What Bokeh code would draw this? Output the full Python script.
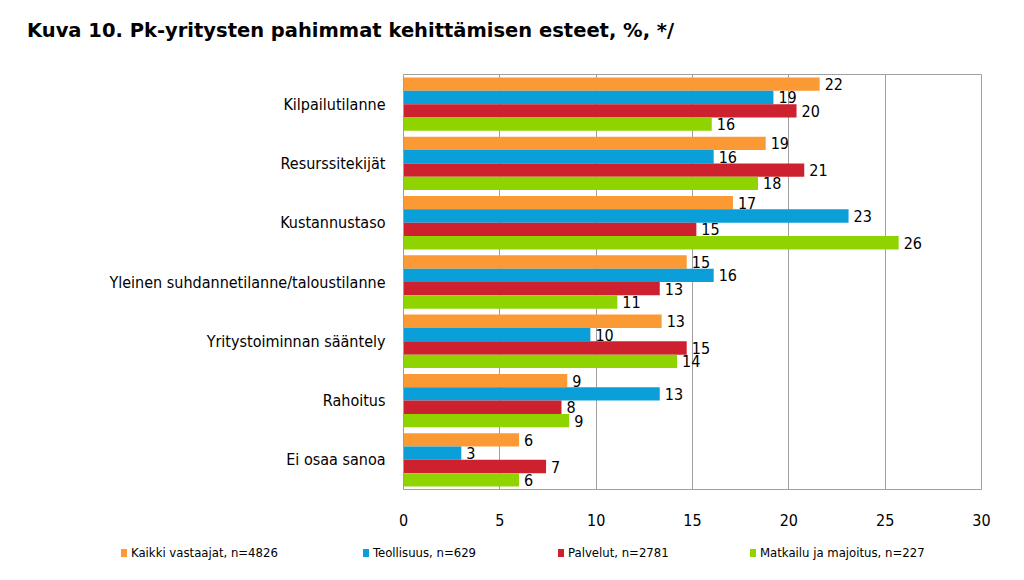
from bokeh.plotting import figure
from bokeh.layouts import column
from bokeh.models import FactorRange, ColumnDataSource, Range1d, FixedTicker, Div
from bokeh.transform import dodge
from bokeh.core.properties import value
from bokeh.embed import file_html
from bokeh.resources import INLINE

title_text = "Kuva 10. Pk-yritysten pahimmat kehittämisen esteet, %, */"
categories = ["Kilpailutilanne", "Resurssitekijät", "Kustannustaso",
              "Yleinen suhdannetilanne/taloustilanne", "Yritystoiminnan sääntely",
              "Rahoitus", "Ei osaa sanoa"]
series_names = ["Kaikki vastaajat, n=4826", "Teollisuus, n=629",
                "Palvelut, n=2781", "Matkailu ja majoitus, n=227"]
kaikki = [21.6, 18.8, 17.1, 14.7, 13.4, 8.5, 6.0]
teollisuus = [19.2, 16.1, 23.1, 16.1, 9.7, 13.3, 3.0]
palvelut = [20.4, 20.8, 15.2, 13.3, 14.7, 8.2, 7.4]
matkailu = [16.0, 18.4, 25.7, 11.1, 14.2, 8.6, 6.0]
kaikki_lbl = ["22", "19", "17", "15", "13", "9", "6"]
teollisuus_lbl = ["19", "16", "23", "16", "10", "13", "3"]
palvelut_lbl = ["20", "21", "15", "13", "15", "8", "7"]
matkailu_lbl = ["16", "18", "26", "11", "14", "9", "6"]
x_ticks = [0, 5, 10, 15, 20, 25, 30]

colors = ["#fb9a35", "#0a9fd8", "#cd2130", "#8fd400"]
offsets = [0.3375, 0.1125, -0.1125, -0.3375]
bar_h = 0.225
legend_x = [121, 363, 558, 750]

FONT = "DejaVu Sans Condensed"

src = ColumnDataSource(dict(cat=categories, s0=kaikki, s1=teollisuus, s2=palvelut, s3=matkailu,
                            l0=kaikki_lbl, l1=teollisuus_lbl, l2=palvelut_lbl, l3=matkailu_lbl))

# title strip above the chart
title_div = Div(
    text=(f'<div style="position:relative;width:1008px;height:50px;">'
          f'<span style="position:absolute;left:27px;top:19px;line-height:24px;white-space:nowrap;'
          f'font-family:\'DejaVu Sans\';font-weight:bold;font-size:19.5px;color:#000000;">'
          f'{title_text}</span></div>'),
    width=1008, height=50, margin=0)

p = figure(width=1008, height=490, output_backend="svg", toolbar_location=None, title=None,
           y_range=FactorRange(factors=list(reversed(categories)), range_padding=0),
           x_range=Range1d(0, 30),
           min_border_left=403, min_border_right=27, min_border_top=24, min_border_bottom=51)

for i in range(4):
    p.hbar(y=dodge("cat", offsets[i], range=p.y_range), left=0, right=f"s{i}",
           height=bar_h, source=src, fill_color=colors[i], line_color=None)
    p.text(x=f"s{i}", y=dodge("cat", offsets[i], range=p.y_range), text=f"l{i}", source=src,
           x_offset=5, text_baseline="middle", text_align="left",
           text_font=value(FONT), text_font_size="16px", text_color="#000000")

p.xaxis.ticker = FixedTicker(ticks=x_ticks)
p.xaxis.major_tick_line_color = None
p.xaxis.minor_tick_line_color = None
p.xaxis.axis_line_color = "#a0a0a0"
p.xaxis.major_label_standoff = 18
p.xaxis.major_label_text_font = FONT
p.xaxis.major_label_text_font_size = "16px"
p.xaxis.major_label_text_color = "#000000"

p.yaxis.major_tick_line_color = None
p.yaxis.minor_tick_line_color = None
p.yaxis.axis_line_color = "#a0a0a0"
p.yaxis.major_label_standoff = 12
p.yaxis.major_label_text_font = FONT
p.yaxis.major_label_text_font_size = "16px"
p.yaxis.major_label_text_color = "#000000"

p.xgrid.grid_line_color = "#a0a0a0"
p.xgrid.ticker = FixedTicker(ticks=x_ticks)
p.ygrid.grid_line_color = None
p.outline_line_color = "#a0a0a0"

# legend strip below the chart
parts = []
for i in range(4):
    parts.append(
        f'<span style="position:absolute;left:{legend_x[i]}px;top:9px;width:6px;height:8px;'
        f'background:{colors[i]};"></span>'
        f'<span style="position:absolute;left:{legend_x[i] + 10}px;top:4px;line-height:18px;'
        f'white-space:nowrap;">{series_names[i]}</span>')
legend_html = (f'<div style="position:relative;width:1008px;height:36px;font-family:\'{FONT}\';'
               f'font-size:13px;color:#000000;">' + "".join(parts) + '</div>')
legend_div = Div(text=legend_html, width=1008, height=36, margin=0)

layout = column(title_div, p, legend_div, spacing=0)
open("out.html", "w").write(file_html(layout, INLINE))
